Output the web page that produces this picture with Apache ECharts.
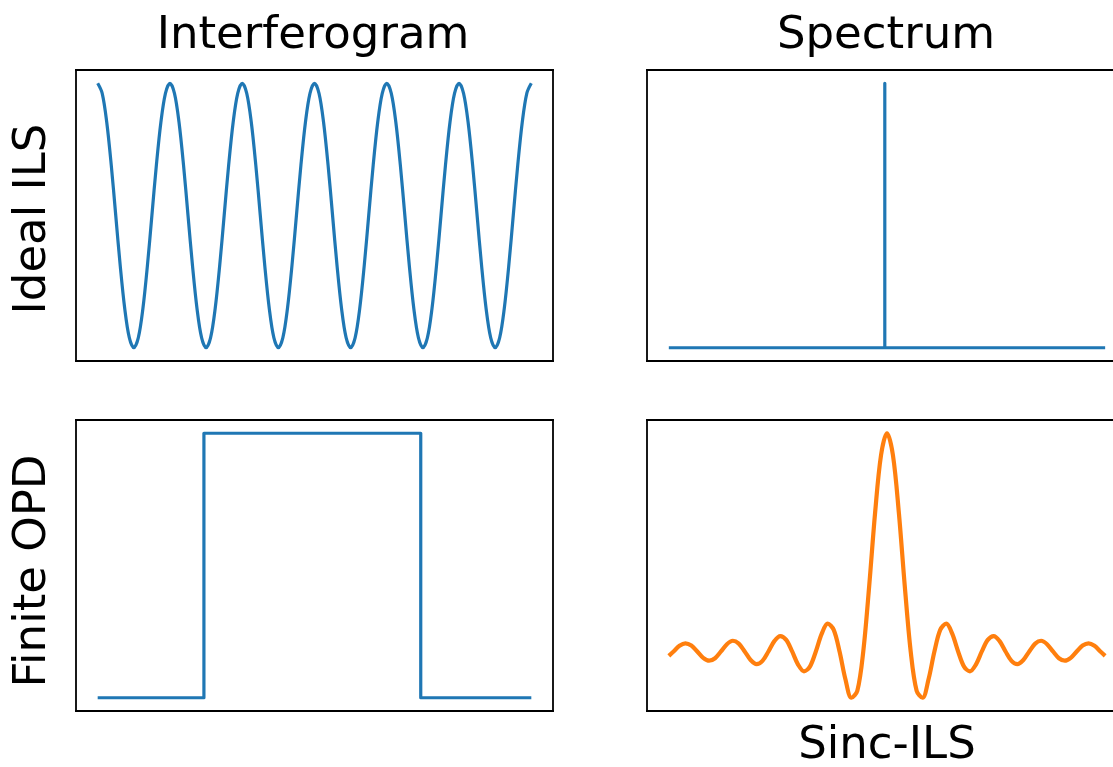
<!DOCTYPE html>
<html>
<head>
<meta charset="utf-8">
<script src="https://cdn.jsdelivr.net/npm/echarts@6/dist/echarts.min.js"></script>
<style>
  html, body { margin: 0; padding: 0; background: #fff; overflow: hidden; }
  #chart { width: 1113px; height: 767px; }
</style>
</head>
<body>
<div id="chart"></div>
<script>
// Column and row captions
const columnTitles = ['Interferogram', 'Spectrum'];
const rowLabels = ['Ideal ILS', 'Finite OPD'];
const bottomCaption = 'Sinc-ILS';

// Ideal interferogram: six full fringes, 16 samples per fringe
const fringeSignal = [
  1, 0.924, 0.707, 0.383, 0, -0.383, -0.707, -0.924, -1, -0.924, -0.707, -0.383, 0, 0.383, 0.707, 0.924,
  1, 0.924, 0.707, 0.383, 0, -0.383, -0.707, -0.924, -1, -0.924, -0.707, -0.383, 0, 0.383, 0.707, 0.924,
  1, 0.924, 0.707, 0.383, 0, -0.383, -0.707, -0.924, -1, -0.924, -0.707, -0.383, 0, 0.383, 0.707, 0.924,
  1, 0.924, 0.707, 0.383, 0, -0.383, -0.707, -0.924, -1, -0.924, -0.707, -0.383, 0, 0.383, 0.707, 0.924,
  1, 0.924, 0.707, 0.383, 0, -0.383, -0.707, -0.924, -1, -0.924, -0.707, -0.383, 0, 0.383, 0.707, 0.924,
  1, 0.924, 0.707, 0.383, 0, -0.383, -0.707, -0.924, -1, -0.924, -0.707, -0.383, 0, 0.383, 0.707, 0.924,
  1
];

// Ideal spectrum: a single monochromatic line
const spectrumX = [-1, -0.01, -0.01, -0.01, 1];
const spectrumY = [0, 0, 1, 0, 0];

// Finite optical path difference: boxcar window
const apertureX = [-1, -0.51, -0.51, 0.49, 0.49, 1];
const apertureY = [0, 0, 1, 1, 0, 0];

// Resulting instrument line shape (sinc)
const sincX = [
  -9.2, -9, -8.75, -8.5, -8.25, -8, -7.75, -7.5, -7.25, -7, -6.75, -6.5, -6.25, -6,
  -5.75, -5.5, -5.25, -5, -4.75, -4.5, -4.25, -4, -3.75, -3.5, -3.25, -3,
  -2.75, -2.5, -2.25, -2, -1.75, -1.5, -1.25, -1, -0.75, -0.5, -0.25,
  0,
  0.25, 0.5, 0.75, 1, 1.25, 1.5, 1.75, 2, 2.25, 2.5, 2.75, 3,
  3.25, 3.5, 3.75, 4, 4.25, 4.5, 4.75, 5, 5.25, 5.5, 5.75, 6,
  6.25, 6.5, 6.75, 7, 7.25, 7.5, 7.75, 8, 8.25, 8.5, 8.75, 9, 9.2
];
const sincY = [
  -0.0203, 0, 0.0257, 0.0374, 0.0273, 0, -0.0290, -0.0424, -0.0310, 0, 0.0333, 0.0490, 0.0360, 0,
  -0.0391, -0.0579, -0.0429, 0, 0.0474, 0.0707, 0.0530, 0, -0.0600, -0.0909, -0.0693, 0,
  0.0818, 0.1273, 0.1000, 0, -0.1286, -0.2122, -0.1801, 0, 0.3001, 0.6366, 0.9003,
  1,
  0.9003, 0.6366, 0.3001, 0, -0.1801, -0.2122, -0.1286, 0, 0.1000, 0.1273, 0.0818, 0,
  -0.0693, -0.0909, -0.0600, 0, 0.0530, 0.0707, 0.0474, 0, -0.0429, -0.0579, -0.0391, 0,
  0.0360, 0.0490, 0.0333, 0, -0.0310, -0.0424, -0.0290, 0, 0.0273, 0.0374, 0.0257, 0, -0.0203
];

const BLUE = '#1f77b4';
const ORANGE = '#ff7f0e';
const FONT = 'DejaVu Sans';

// Breathing room around the data: 5% below, `hiPad` of the span above.
// The right-hand column is cut off by the page edge, so it keeps
// only a sliver of room on its right side.
function padded(values, hiPad) {
  const lo = Math.min(...values);
  const hi = Math.max(...values);
  const span = hi - lo;
  const top = hiPad === undefined ? 0.05 : hiPad;
  return { min: lo - 0.05 * span, max: hi + top * span };
}

function zip(xs, ys) {
  return ys.map((y, i) => [xs[i], y]);
}

const fringeIndex = fringeSignal.map((_, i) => i);

// cutRight: the panel's right border lies beyond the page edge
const panels = [
  { x: fringeIndex, y: fringeSignal, color: BLUE, width: 3.2, smooth: 0.333, cutRight: false },
  { x: spectrumX, y: spectrumY, color: BLUE, width: 3.2, smooth: false, cutRight: true },
  { x: apertureX, y: apertureY, color: BLUE, width: 3.2, smooth: false, cutRight: false },
  { x: sincX, y: sincY, color: ORANGE, width: 4.2, smooth: 0.333, cutRight: true }
];

const gridBoxes = [
  { left: 76, top: 70, width: 477, height: 291 },
  { left: 647, top: 70, right: 0, height: 291 },
  { left: 76, top: 420, width: 477, height: 291 },
  { left: 647, top: 420, right: 0, height: 291 }
];

const grid = gridBoxes.map(b => Object.assign({
  show: false,
  containLabel: false
}, b));

// Each panel is boxed by bare axis lines (no ticks, no labels)
function frameAxis(gridIndex, position, extent, visible) {
  return Object.assign({
    type: 'value',
    show: visible,
    gridIndex: gridIndex,
    position: position,
    scale: true,
    axisLine: {
      show: visible,
      onZero: false,
      lineStyle: { color: '#000', width: 1.8, cap: 'square' }
    },
    axisTick: { show: false },
    axisLabel: { show: false },
    splitLine: { show: false }
  }, extent);
}

const xAxis = [];
const yAxis = [];
panels.forEach((p, i) => {
  const xr = padded(p.x, p.cutRight ? 0.018 : 0.05);
  const yr = padded(p.y);
  xAxis.push(frameAxis(i, 'bottom', xr, true), frameAxis(i, 'top', xr, true));
  yAxis.push(frameAxis(i, 'left', yr, true), frameAxis(i, 'right', yr, !p.cutRight));
});

const series = panels.map((p, i) => ({
  type: 'line',
  xAxisIndex: 2 * i,
  yAxisIndex: 2 * i,
  data: zip(p.x, p.y),
  showSymbol: false,
  symbol: 'none',
  smooth: p.smooth,
  clip: false,
  z: 3,
  lineStyle: { color: p.color, width: p.width, cap: 'butt', join: 'round' },
  emphasis: { disabled: true },
  silent: true
}));

function caption(text, x, y, size, opts) {
  return Object.assign({
    type: 'text',
    x: x,
    y: y,
    silent: true,
    style: {
      text: text,
      fontSize: size,
      fontFamily: FONT,
      fill: '#000',
      align: 'center',
      verticalAlign: 'middle',
      textAlign: 'center',
      textVerticalAlign: 'middle'
    }
  }, opts || {});
}

const graphic = [
  caption(columnTitles[0], 313, 36, 45),
  caption(columnTitles[1], 886, 36, 45),
  caption(bottomCaption, 887, 746, 45),
  caption(rowLabels[0], 33, 219, 45, { rotation: Math.PI / 2 }),
  caption(rowLabels[1], 33, 571, 45, { rotation: Math.PI / 2 })
];

const chart = echarts.init(document.getElementById('chart'), null, { renderer: 'canvas' });
chart.setOption({
  animation: false,
  backgroundColor: '#fff',
  grid: grid,
  xAxis: xAxis,
  yAxis: yAxis,
  series: series,
  graphic: graphic
});
</script>
</body>
</html>
